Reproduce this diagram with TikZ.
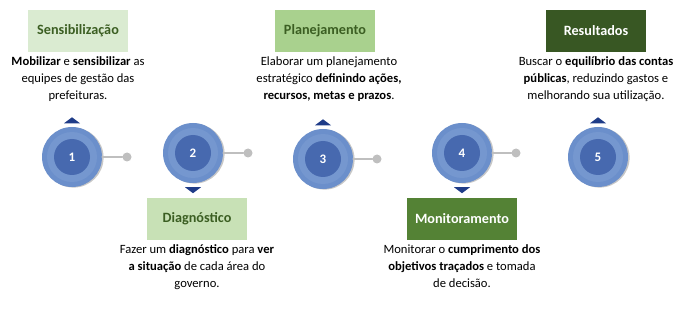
\documentclass[tikz,border=0pt]{standalone}
\usepackage{fontspec}
\setmainfont{Carlito}
\usepackage{tikz}
\usetikzlibrary{positioning}
\usepackage{xcolor}
\definecolor{ringblue}{HTML}{6B8FCB}
\definecolor{midblue}{HTML}{7597CF}
\definecolor{coreblue}{HTML}{4769AF}
\definecolor{navy}{HTML}{1F3C88}
\definecolor{knobgray}{HTML}{BFBFBF}
\definecolor{paleg}{HTML}{DAEBD1}
\definecolor{softg}{HTML}{C8E1B6}
\definecolor{midg}{HTML}{A9D18E}
\definecolor{leafg}{HTML}{548235}
\definecolor{deepg}{HTML}{385723}
\definecolor{inkg}{HTML}{3B5E22}

\begin{document}
\begin{tikzpicture}[x=1pt,y=-1pt,line cap=round,
  disc/.style={circle,minimum size=60pt,inner sep=0pt,fill=ringblue,
    preaction={fill=black!22,transform canvas={shift={(1.6pt,-0.6pt)}}},
    path picture={
      \fill[midblue] (path picture bounding box.center) circle (25pt);
      \fill[coreblue] (path picture bounding box.center) circle (18pt);},
    text=white,font=\fontsize{13}{15}\selectfont\bfseries},
  knob/.style={circle,fill=knobgray,inner sep=0pt,minimum size=9pt},
  stem/.style={knobgray,line width=1.8pt},
  tag/.style={minimum width=100pt,minimum height=42pt,inner sep=0pt,
    font=\fontsize{14.2}{16}\selectfont\bfseries},
  desc/.style={align=center,inner sep=0pt,font=\fontsize{12.6}{17}\selectfont},
  tip/.style={fill=navy}]
\useasboundingbox (0,0) rectangle (700,312);

% etapas
\node[disc] (c1) at (72,157) {1};
\node[disc] (c2) at (193,153) {2};
\node[disc] (c3) at (323,159) {3};
\node[disc] (c4) at (462,153) {4};
\node[disc] (c5) at (598,157) {5};

\node[knob] (d1) at (127,157) {};
\node[knob] (d2) at (248,153) {};
\node[knob] (d3) at (377,159) {};
\node[knob] (d4) at (516,153) {};
\draw[stem] (c1) -- (d1);
\draw[stem] (c2) -- (d2);
\draw[stem] (c3) -- (d3);
\draw[stem] (c4) -- (d4);

\fill[tip] (c1.north) ++(-8,-3.5) -- ++(16,0) -- ++(-8,-6) -- cycle;
\fill[tip] (c3.north) ++(-8,-3.5) -- ++(16,0) -- ++(-8,-6) -- cycle;
\fill[tip] (c5.north) ++(-8,-3.5) -- ++(16,0) -- ++(-8,-6) -- cycle;
\fill[tip] (c2.south) ++(-8,4) -- ++(16,0) -- ++(-8,6) -- cycle;
\fill[tip] (c4.south) ++(-8,4) -- ++(16,0) -- ++(-8,6) -- cycle;

% titulos
\node[tag,fill=paleg,text=inkg] (t1) at (78,31) {Sensibilização};
\node[tag,fill=softg,text=inkg] (t2) at (197,219) {Diagnóstico};
\node[tag,fill=midg,text=inkg] (t3) at (325,31) {Planejamento};
\node[tag,fill=leafg,text=white,minimum width=110pt] (t4) at (462,219) {Monitoramento};
\node[tag,fill=deepg,text=white] (t5) at (596,31) {Resultados};

% textos
\node[desc,below=4pt of t1] (x1) {\textbf{Mobilizar} e \textbf{sensibilizar} as\\equipes de gestão das\\prefeituras.};
\node[desc,below=4pt of t2] (x2) {Fazer um \textbf{diagnóstico} para \textbf{ver}\\\textbf{a situação} de cada área do\\governo.};
\node[desc,below=4pt of t3,xshift=4pt] (x3) {Elaborar um planejamento\\estratégico \textbf{definindo ações,}\\\textbf{recursos, metas e prazos}.};
\node[desc,below=4pt of t4] (x4) {Monitorar o \textbf{cumprimento dos}\\\textbf{objetivos traçados} e tomada\\de decisão.};
\node[desc,below=4pt of t5] (x5) {Buscar o \textbf{equilíbrio das contas}\\\textbf{públicas}, reduzindo gastos e\\melhorando sua utilização.};
\end{tikzpicture}
\end{document}
